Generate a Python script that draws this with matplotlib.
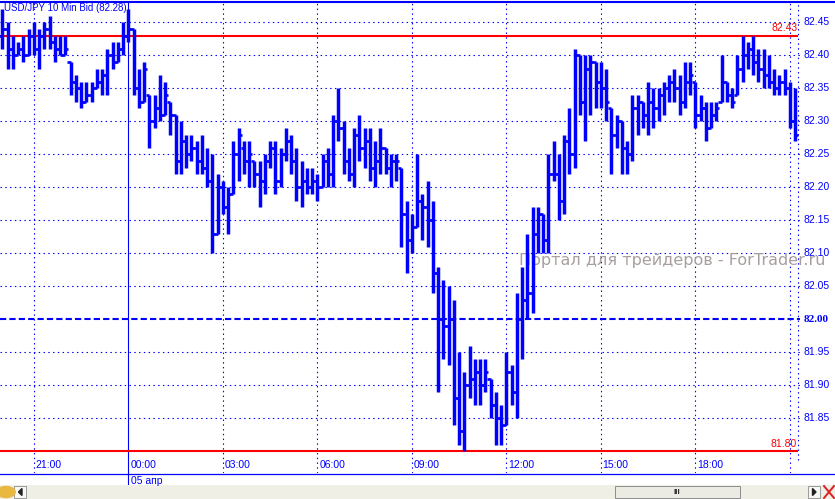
import matplotlib
matplotlib.use('Agg')
import matplotlib.pyplot as plt
from matplotlib.patches import Rectangle, Polygon, Circle
from matplotlib.lines import Line2D
import numpy as np

# USD/JPY 10 min bars, 20:00 .. 21:10 next day
opens = [82.43, 82.44, 82.41, 82.40, 82.41, 82.40, 82.43, 82.41, 82.43, 82.44,
         82.42, 82.41, 82.40, 82.39, 82.36, 82.35, 82.33, 82.34, 82.35, 82.36,
         82.37, 82.40, 82.39, 82.41, 82.43, 82.44, 82.35, 82.33, 82.34, 82.30,
         82.32, 82.31, 82.33, 82.31, 82.24, 82.27, 82.25, 82.26, 82.24, 82.23,
         82.21, 82.13, 82.20, 82.17, 82.19, 82.25, 82.26, 82.24, 82.24, 82.22,
         82.21, 82.24, 82.26, 82.21, 82.25, 82.27, 82.24, 82.20, 82.21, 82.20,
         82.21, 82.20, 82.24, 82.22, 82.30, 82.29, 82.24, 82.22, 82.28, 82.26,
         82.27, 82.23, 82.24, 82.26, 82.23, 82.24, 82.23, 82.16, 82.12, 82.14,
         82.18, 82.17, 82.15, 82.07, 82.00, 81.99, 82.00, 81.88, 81.83, 81.90,
         81.91, 81.92, 81.90, 81.91, 81.87, 81.85, 81.84, 81.92, 81.89, 82.00,
         82.03, 82.04, 82.13, 82.16, 82.12, 82.22, 82.22, 82.18, 82.27, 82.25,
         82.40, 82.33, 82.38, 82.39, 82.36, 82.35, 82.32, 82.28, 82.30, 82.26,
         82.25, 82.32, 82.33, 82.31, 82.33, 82.32, 82.34, 82.35, 82.36, 82.35,
         82.33, 82.36, 82.36, 82.31, 82.32, 82.29, 82.31, 82.33, 82.36, 82.34,
         82.34, 82.38, 82.40, 82.41, 82.39, 82.38, 82.37, 82.36, 82.35, 82.36,
         82.35, 82.30]
highs = [82.47, 82.45, 82.43, 82.42, 82.43, 82.44, 82.45, 82.44, 82.45, 82.46,
         82.43, 82.43, 82.43, 82.39, 82.37, 82.36, 82.36, 82.36, 82.38, 82.38,
         82.41, 82.42, 82.42, 82.45, 82.47, 82.44, 82.38, 82.39, 82.34, 82.34,
         82.37, 82.36, 82.33, 82.31, 82.30, 82.28, 82.28, 82.27, 82.28, 82.26,
         82.25, 82.22, 82.21, 82.20, 82.27, 82.29, 82.27, 82.27, 82.24, 82.24,
         82.25, 82.27, 82.27, 82.26, 82.29, 82.28, 82.26, 82.24, 82.23, 82.23,
         82.22, 82.25, 82.26, 82.31, 82.35, 82.30, 82.26, 82.29, 82.31, 82.29,
         82.29, 82.27, 82.29, 82.26, 82.25, 82.25, 82.23, 82.18, 82.16, 82.25,
         82.19, 82.21, 82.18, 82.08, 82.06, 82.05, 82.03, 81.95, 81.92, 81.96,
         81.94, 81.94, 81.94, 81.91, 81.89, 81.87, 81.95, 81.93, 82.04, 82.08,
         82.13, 82.17, 82.17, 82.16, 82.25, 82.27, 82.25, 82.28, 82.32, 82.41,
         82.40, 82.40, 82.40, 82.39, 82.39, 82.38, 82.32, 82.31, 82.30, 82.27,
         82.34, 82.34, 82.33, 82.36, 82.35, 82.35, 82.36, 82.37, 82.38, 82.37,
         82.39, 82.39, 82.36, 82.34, 82.33, 82.33, 82.33, 82.40, 82.36, 82.35,
         82.40, 82.43, 82.42, 82.43, 82.41, 82.41, 82.40, 82.38, 82.37, 82.38,
         82.36, 82.35]
lows = [82.41, 82.38, 82.38, 82.40, 82.39, 82.40, 82.40, 82.38, 82.41, 82.41,
        82.39, 82.40, 82.40, 82.34, 82.33, 82.32, 82.33, 82.33, 82.35, 82.34,
        82.34, 82.38, 82.39, 82.40, 82.42, 82.34, 82.32, 82.33, 82.26, 82.29,
        82.30, 82.31, 82.28, 82.22, 82.22, 82.23, 82.24, 82.22, 82.22, 82.20,
        82.10, 82.13, 82.16, 82.13, 82.19, 82.21, 82.22, 82.20, 82.20, 82.17,
        82.19, 82.23, 82.19, 82.20, 82.24, 82.22, 82.18, 82.17, 82.19, 82.19,
        82.18, 82.20, 82.20, 82.20, 82.27, 82.22, 82.21, 82.20, 82.24, 82.23,
        82.21, 82.20, 82.22, 82.22, 82.20, 82.21, 82.11, 82.07, 82.10, 82.14,
        82.12, 82.11, 82.04, 81.89, 81.94, 81.93, 81.84, 81.81, 81.80, 81.88,
        81.87, 81.87, 81.89, 81.85, 81.81, 81.81, 81.84, 81.87, 81.85, 81.94,
        82.00, 82.01, 82.10, 82.10, 82.10, 82.21, 82.15, 82.16, 82.22, 82.23,
        82.31, 82.27, 82.31, 82.32, 82.32, 82.30, 82.22, 82.26, 82.22, 82.22,
        82.24, 82.28, 82.29, 82.28, 82.29, 82.30, 82.31, 82.33, 82.33, 82.31,
        82.32, 82.34, 82.29, 82.30, 82.27, 82.29, 82.30, 82.33, 82.33, 82.32,
        82.34, 82.36, 82.38, 82.37, 82.36, 82.35, 82.35, 82.34, 82.34, 82.34,
        82.29, 82.27]
closes = [82.44, 82.41, 82.40, 82.41, 82.40, 82.43, 82.41, 82.43, 82.44, 82.42,
          82.41, 82.40, 82.41, 82.36, 82.35, 82.33, 82.34, 82.35, 82.36, 82.37,
          82.40, 82.39, 82.41, 82.43, 82.44, 82.35, 82.33, 82.38, 82.30, 82.32,
          82.31, 82.34, 82.31, 82.24, 82.27, 82.25, 82.26, 82.24, 82.23, 82.21,
          82.13, 82.20, 82.17, 82.19, 82.25, 82.28, 82.24, 82.25, 82.22, 82.21,
          82.24, 82.26, 82.21, 82.25, 82.27, 82.24, 82.20, 82.21, 82.20, 82.21,
          82.20, 82.24, 82.22, 82.30, 82.29, 82.24, 82.22, 82.28, 82.26, 82.27,
          82.23, 82.24, 82.26, 82.23, 82.24, 82.24, 82.16, 82.12, 82.14, 82.18,
          82.17, 82.15, 82.07, 82.00, 81.99, 82.00, 81.88, 81.83, 81.90, 81.91,
          81.92, 81.90, 81.92, 81.87, 81.85, 81.84, 81.92, 81.89, 82.00, 82.03,
          82.04, 82.13, 82.16, 82.12, 82.22, 82.22, 82.18, 82.27, 82.25, 82.40,
          82.33, 82.38, 82.39, 82.36, 82.35, 82.33, 82.28, 82.30, 82.26, 82.25,
          82.32, 82.33, 82.31, 82.33, 82.32, 82.34, 82.35, 82.36, 82.35, 82.33,
          82.36, 82.37, 82.31, 82.32, 82.29, 82.31, 82.32, 82.36, 82.34, 82.33,
          82.38, 82.40, 82.41, 82.39, 82.38, 82.37, 82.36, 82.35, 82.36, 82.35,
          82.30, 82.28]

time_labels = ['21:00', '00:00', '03:00', '06:00', '09:00', '12:00', '15:00', '18:00', '21:00']
time_bars = [6, 24, 42, 60, 78, 96, 114, 132, 150]   # bar index of each label
price_levels = [81.85, 81.90, 81.95, 82.00, 82.05, 82.10, 82.15, 82.20,
                82.25, 82.30, 82.35, 82.40, 82.45]
red_levels = [82.43, 81.80]

BLUE = '#0000ff'
W, H = 835, 499
plt.rcParams['font.family'] = ['Liberation Sans', 'DejaVu Sans']


def fx(px):
    return px / W


def fy(py):
    return 1 - py / H


fig = plt.figure(figsize=(8.35, 4.99), dpi=100)
fig.patch.set_facecolor('white')
ax = fig.add_axes([0, fy(473), fx(800), (473 - 2) / H])
ax.set_xlim(-0.44, 151.94)
ax.set_ylim(81.7671, 82.4808)
ax.axis('off')

idx = np.arange(len(closes))

# grid
for p in price_levels:
    if p == 82.00:
        ax.axhline(p, color=BLUE, lw=1.5, ls=(0, (3, 1.5)), zorder=1)
    else:
        ax.axhline(p, color=BLUE, lw=0.8, ls=(0, (1.3, 3.0)), zorder=1)
for b in time_bars:
    if b == 24:
        ax.axvline(b, ymin=-14 / 471, ymax=1, color=BLUE, lw=0.8, clip_on=False, zorder=1)
    else:
        ax.axvline(b, color=BLUE, lw=0.8, ls=(0, (1.3, 3.0)), zorder=1)
ax.axvline(151.56, ymin=13 / 471, ymax=1, color=BLUE, lw=0.8, ls=(0, (1.3, 3.0)), zorder=1)

for b, lab in zip(time_bars[:-1], time_labels[:-1]):
    ax.text(b + 0.35, 0.016, lab, transform=ax.get_xaxis_transform(),
            ha='left', va='center', color=BLUE, fontsize=7.5)

# red levels
for p in red_levels:
    ax.hlines(p, -0.44, 151.56, color='#ff0000', lw=1.5, zorder=3)
    ax.text(151.4, p + 0.004, '%.2f' % p, color='#ff0000', fontsize=7.5,
            ha='right', va='bottom', zorder=3)

# watermark
ax.text(fx(519), fy(260), 'Портал для трейдеров - ForTrader.ru', transform=fig.transFigure,
        color='#a89e9e', fontsize=11.5, family='DejaVu Sans', ha='left', va='center',
        clip_on=False, zorder=1.5)

# OHLC bars
ax.vlines(idx, lows, highs, color=BLUE, lw=2.5, zorder=4)
ax.hlines(opens, idx - 0.6, idx, color=BLUE, lw=1.9, zorder=4)
ax.hlines(closes, idx, idx + 0.6, color=BLUE, lw=1.9, zorder=4)

# price scale
for p in price_levels:
    if p == 82.00:
        ax.text(1.004, p, '82.00', transform=ax.get_yaxis_transform(), color=BLUE,
                fontsize=8, family='Liberation Serif', weight='bold', ha='left', va='center')
    else:
        ax.text(1.004, p, '%.2f' % p, transform=ax.get_yaxis_transform(), color=BLUE,
                fontsize=7.5, ha='left', va='center')

fig.text(fx(4), fy(8), 'USD/JPY 10 Min Bid (82.28)', color=BLUE, fontsize=7,
         ha='left', va='center')
fig.text(fx(131), fy(481), '05 апр', color=BLUE, fontsize=7.5, ha='left', va='center')

# frame lines
fig.add_artist(Line2D([0, 1], [fy(2), fy(2)], color=BLUE, lw=1.5))
fig.add_artist(Line2D([0, 1], [fy(473.5), fy(473.5)], color=BLUE, lw=0.9))

# scroll bar
def rect(x0, y0, x1, y1, fc, ec='none'):
    fig.add_artist(Rectangle((fx(x0), fy(y1)), fx(x1) - fx(x0), fy(y0) - fy(y1),
                             facecolor=fc, edgecolor=ec, lw=0.7))

rect(0, 485, 835, 499, '#f0efe6')
rect(14, 486, 26, 498, '#f7f7f3', '#9a9a9a')
rect(615, 486, 740, 498, '#ecebe3', '#8e8e8e')
rect(808, 486, 820, 498, '#f7f7f3', '#9a9a9a')
fig.text(fx(677), fy(492), 'III', color='#333333', fontsize=6, ha='center', va='center',
         weight='bold')
fig.add_artist(Polygon([(fx(22), fy(488.5)), (fx(22), fy(495.5)), (fx(18.5), fy(492))],
                       closed=True, color='#222222'))
fig.add_artist(Polygon([(fx(812.5), fy(488.5)), (fx(812.5), fy(495.5)), (fx(816), fy(492))],
                       closed=True, color='#222222'))
fig.add_artist(Line2D([fx(824), fx(834)], [fy(486), fy(498)], color='#dd2222', lw=1.4))
fig.add_artist(Line2D([fx(824), fx(834)], [fy(498), fy(486)], color='#dd2222', lw=1.4))
fig.add_artist(Circle((fx(6), fy(492)), 5.5 / H, color='#e8b840', transform=fig.transFigure))

fig.savefig('out.png', dpi=100)
